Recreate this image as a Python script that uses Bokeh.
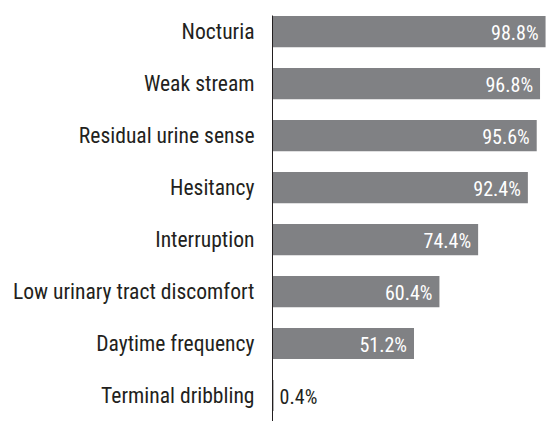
from bokeh.plotting import figure
from bokeh.models import ColumnDataSource, Range1d, FixedTicker
from bokeh.core.properties import value
from bokeh.embed import file_html
from bokeh.resources import INLINE

categories = ["Nocturia", "Weak stream", "Residual urine sense", "Hesitancy",
              "Interruption", "Low urinary tract discomfort", "Daytime frequency",
              "Terminal dribbling"]
values = [98.8, 96.8, 95.6, 92.4, 74.4, 60.4, 51.2, 0.4]

FONT = "'Roboto Condensed', 'DejaVu Sans Condensed', Roboto, sans-serif"
n = len(categories)
ypos = [n - 1 - i for i in range(n)]
labels = [f"{v:.1f}%" for v in values]

inside = [v > 10 for v in values]
src_in = ColumnDataSource(dict(
    y=[y for y, f in zip(ypos, inside) if f],
    v=[v for v, f in zip(values, inside) if f],
    t=[t for t, f in zip(labels, inside) if f]))
src_out = ColumnDataSource(dict(
    y=[y for y, f in zip(ypos, inside) if not f],
    v=[v for v, f in zip(values, inside) if not f],
    t=[t for t, f in zip(labels, inside) if not f]))
src = ColumnDataSource(dict(y=ypos, v=values))

p = figure(width=547, height=421, output_backend="svg", toolbar_location=None,
           x_range=Range1d(0, 99.5), y_range=Range1d(-0.5, n - 1 + 0.31),
           min_border_left=272, min_border_right=0, min_border_top=15,
           min_border_bottom=0)
p.outline_line_color = None
p.grid.visible = False
p.xaxis.visible = False
p.background_fill_color = "white"

p.hbar(y="y", right="v", left=0, height=0.6, source=src,
       fill_color="#808184", line_color=None)

p.text(x="v", y="y", text="t", source=src_in, x_offset=-7, y_offset=1,
       text_align="right", text_baseline="middle", text_color="white",
       text_font=value(FONT), text_font_size="20px")
p.text(x="v", y="y", text="t", source=src_out, x_offset=6, y_offset=1,
       text_align="left", text_baseline="middle", text_color="#231f20",
       text_font=value(FONT), text_font_size="20px")

ax = p.yaxis[0]
ax.ticker = FixedTicker(ticks=ypos)
ax.major_label_overrides = {y: c for y, c in zip(ypos, categories)}
ax.major_tick_line_color = None
ax.minor_tick_line_color = None
ax.axis_line_color = "#231f20"
ax.axis_line_width = 1
ax.major_label_standoff = 12
ax.major_label_text_font = FONT
ax.major_label_text_font_size = "21.6px"
ax.major_label_text_color = "#231f20"

open("out.html", "w").write(file_html(p, INLINE))
